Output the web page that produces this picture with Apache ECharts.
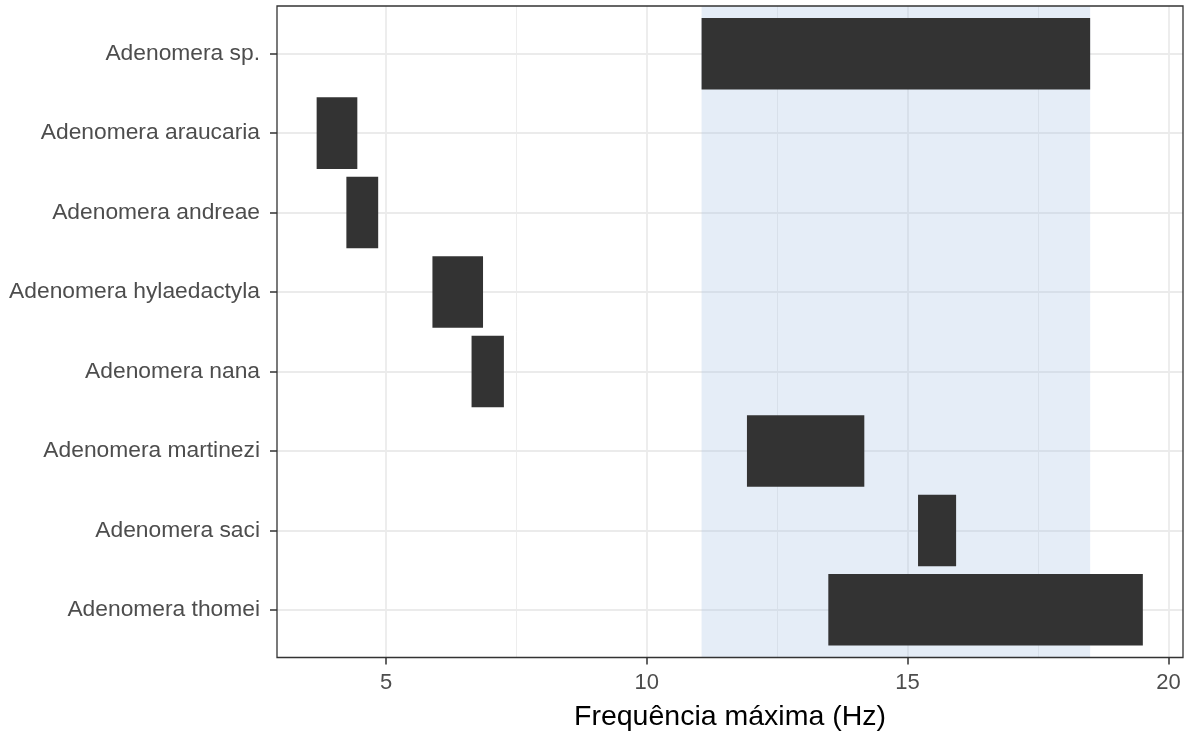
<!DOCTYPE html>
<html>
<head>
<meta charset="utf-8">
<script src="https://cdn.jsdelivr.net/npm/echarts@6/dist/echarts.min.js"></script>
<style>
  html, body { margin: 0; padding: 0; background: #ffffff; }
  #chart { width: 1193px; height: 733px; }
</style>
</head>
<body>
<div id="chart"></div>
<script>
// Species, listed top to bottom
const species = [
  'Adenomera sp.',
  'Adenomera araucaria',
  'Adenomera andreae',
  'Adenomera hylaedactyla',
  'Adenomera nana',
  'Adenomera martinezi',
  'Adenomera saci',
  'Adenomera thomei'
];
// Range of maximum frequency (Hz) per species
const freqMin = [11.05, 3.67, 4.24, 5.89, 6.64, 11.92, 15.20, 13.48];
const freqMax = [18.50, 4.45, 4.85, 6.86, 7.26, 14.17, 15.93, 19.51];
// Highlighted band
const bandRange = [11.05, 18.50];
// Axis ticks
const xTicks = [5, 10, 15, 20];
const xMinorTicks = [7.5, 12.5, 17.5];
const yIndex = species.map((_, i) => i);

const chart = echarts.init(document.getElementById('chart'), null, { renderer: 'canvas' });

const rows = species.map((s, i) => [freqMin[i], freqMax[i], i]);

const gridLines = []
  .concat(xTicks.map(v => ({ xAxis: v, lineStyle: { width: 1.8 } })))
  .concat(xMinorTicks.map(v => ({ xAxis: v, lineStyle: { width: 0.9 } })))
  .concat(yIndex.map(i => ({ yAxis: i, lineStyle: { width: 1.8 } })));

const option = {
  animation: false,
  backgroundColor: '#ffffff',
  grid: {
    left: 277, top: 6, right: 10, bottom: 75.5,
    outerBoundsMode: 'none',
    containLabel: false,
    show: true, borderColor: '#333333', borderWidth: 1.3,
    backgroundColor: 'transparent', z: 5
  },
  xAxis: {
    type: 'value',
    position: 'bottom',
    min: 2.91, max: 20.28,
    name: 'Frequência máxima (Hz)',
    nameLocation: 'middle',
    nameGap: 45,
    nameTextStyle: { fontFamily: 'Liberation Sans', fontSize: 28.5, color: '#000000' },
    axisLine: { show: false, onZero: false },
    axisTick: { show: true, length: 7, customValues: xTicks, lineStyle: { color: '#333333', width: 1.5 } },
    axisLabel: {
      customValues: xTicks,
      margin: 14,
      fontFamily: 'Liberation Sans', fontSize: 22, color: '#4d4d4d'
    },
    splitLine: { show: false }
  },
  yAxis: {
    type: 'value',
    position: 'left',
    inverse: true,
    min: -0.6, max: 7.6,
    axisLine: { show: false, onZero: false },
    axisTick: { show: true, length: 7, customValues: yIndex, lineStyle: { color: '#333333', width: 1.5 } },
    axisLabel: {
      customValues: yIndex,
      margin: 17,
      fontFamily: 'Liberation Sans', fontSize: 22.8, color: '#4d4d4d',
      formatter: v => species[Math.round(v)] || ''
    },
    splitLine: { show: false }
  },
  series: [{
    type: 'custom',
    z: 2,
    data: rows,
    encode: { x: [0, 1], y: 2 },
    renderItem: function (params, api) {
      const start = api.coord([api.value(0), api.value(2)]);
      const end = api.coord([api.value(1), api.value(2)]);
      const h = api.size([0, 0.9])[1];
      return {
        type: 'rect',
        shape: { x: start[0], y: start[1] - h / 2, width: end[0] - start[0], height: h },
        style: { fill: '#333333' }
      };
    },
    markLine: {
      z: 0,
      silent: true,
      symbol: 'none',
      label: { show: false },
      lineStyle: { color: '#ebebeb', type: 'solid', width: 1.8 },
      emphasis: { disabled: true },
      data: gridLines
    },
    markArea: {
      z: 1,
      silent: true,
      itemStyle: { color: 'rgba(170, 195, 230, 0.3)' },
      emphasis: { disabled: true },
      data: [[{ xAxis: bandRange[0] }, { xAxis: bandRange[1] }]]
    }
  }]
};

chart.setOption(option);
</script>
</body>
</html>
